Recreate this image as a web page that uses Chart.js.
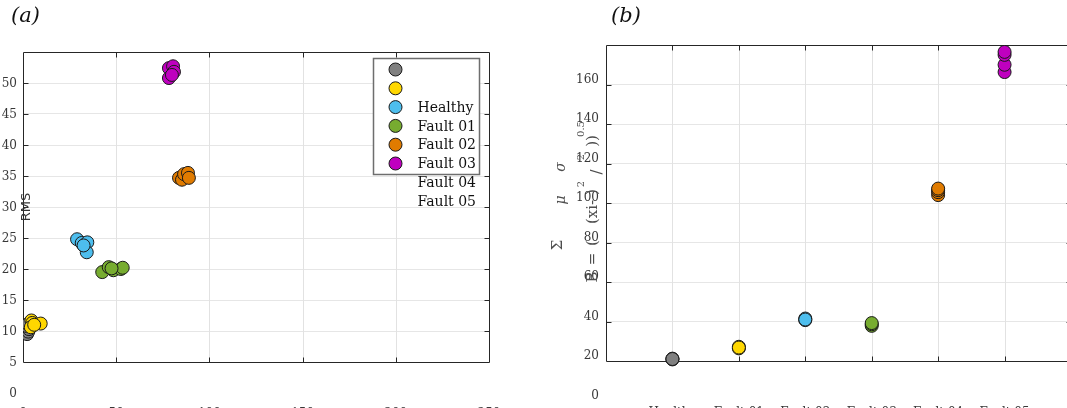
<!DOCTYPE html>
<html>
<head>
<meta charset="utf-8">
<script src="https://cdn.jsdelivr.net/npm/chart.js@4.4.0/dist/chart.umd.min.js"></script>
<style>
  html, body { margin: 0; padding: 0; background: #fff; }
  #wrap { position: relative; width: 1067px; height: 408px; overflow: hidden; }
  canvas { position: absolute; top: 0; }
  #chartA { left: 0; }
  #chartB { left: 540px; }
  .tag { position: absolute; top: 3px; font: italic 21px 'DejaVu Serif', serif; color: #111; }
</style>
</head>
<body>
<div id="wrap">
  <canvas id="chartA" width="520" height="430"></canvas>
  <canvas id="chartB" width="540" height="430"></canvas>
  <div class="tag" style="left:11px">(a)</div>
  <div class="tag" style="left:611px">(b)</div>
</div>
<script>
// classes and colours
const categories = ['Healthy', 'Fault 01', 'Fault 02', 'Fault 03', 'Fault 04', 'Fault 05'];
const colors = ['#808080', '#FFD700', '#4DBEEE', '#77AC30', '#E07B00', '#BF00BF'];

// panel (a): feature on x, RMS on y
const healthyX = [2.2, 2.8, 3.2, 2.0, 2.6];
const healthyRms = [9.5, 9.9, 10.3, 10.8, 11.1];
const fault01X = [4.5, 5.0, 9.5, 4.2, 6.0];
const fault01Rms = [11.7, 11.3, 11.2, 10.6, 11.0];
const fault02X = [29.0, 31.5, 34.5, 34.2, 32.5];
const fault02Rms = [24.8, 24.2, 24.3, 22.7, 23.8];
const fault03X = [42.5, 46.0, 48.5, 52.5, 53.5, 47.5];
const fault03Rms = [19.5, 20.3, 19.8, 20.0, 20.2, 20.1];
const fault04X = [83.7, 85.3, 86.4, 88.5, 89.0];
const fault04Rms = [34.7, 34.4, 35.3, 35.5, 34.7];
const fault05X = [78.3, 80.5, 81.0, 78.3, 79.9];
const fault05Rms = [52.4, 52.7, 51.8, 50.8, 51.3];

// panel (b): B value per class
const healthyB = [20.8, 21.2, 21.0];
const fault01B = [26.4, 27.2, 26.8];
const fault02B = [40.7, 41.5, 41.0];
const fault03B = [37.8, 38.6, 39.2];
const fault04B = [104.0, 105.5, 106.5, 107.3];
const fault05B = [166.3, 170.0, 175.0, 176.5];

// tick labels
const xTicksA = [0, 50, 100, 150, 200, 250];
const yTicksA = [0, 5, 10, 15, 20, 25, 30, 35, 40, 45, 50];
const xTicksB = [1, 2, 3, 4, 5, 6];
const yTicksB = [0, 20, 40, 60, 80, 100, 120, 140, 160];

const tickFont = { family: 'DejaVu Serif', size: 12 };
const tickColor = '#383838';

function useTicks(values) {
  return scale => { scale.ticks = values.map(v => ({ value: v })); };
}

// axes box, inner tick marks and vertical grid lines (MATLAB style)
const framePlugin = {
  id: 'frame',
  beforeDatasetsDraw(chart, args, opts) {
    const { ctx, chartArea: a, scales: { x, y } } = chart;
    const top = Math.round(y.getPixelForValue(y.max)) + 0.5;
    const bottom = Math.round(y.getPixelForValue(opts.floor)) + 0.5;
    const left = Math.round(a.left) + 0.5;
    const right = Math.round(a.right) + 0.5;
    ctx.save();
    ctx.lineWidth = 1;
    ctx.strokeStyle = '#e2e2e2';
    ctx.beginPath();
    x.ticks.forEach(t => {
      if (t.value <= x.min || t.value >= x.max) return;
      const px = Math.round(x.getPixelForValue(t.value)) + 0.5;
      ctx.moveTo(px, top); ctx.lineTo(px, bottom);
    });
    ctx.stroke();
    ctx.strokeStyle = '#262626';
    ctx.beginPath();
    ctx.rect(left, top, right - left, bottom - top);
    x.ticks.forEach(t => {
      if (t.value <= x.min || t.value >= x.max) return;
      const px = Math.round(x.getPixelForValue(t.value)) + 0.5;
      ctx.moveTo(px, top); ctx.lineTo(px, top + 5);
      ctx.moveTo(px, bottom); ctx.lineTo(px, bottom - 5);
    });
    y.ticks.forEach(t => {
      if (t.value <= opts.floor || t.value >= y.max) return;
      const py = Math.round(y.getPixelForValue(t.value)) + 0.5;
      ctx.moveTo(left, py); ctx.lineTo(left + 5, py);
      ctx.moveTo(right, py); ctx.lineTo(right - 5, py);
    });
    ctx.stroke();
    ctx.restore();
  }
};

function rotText(ctx, str, x, y, font, color) {
  ctx.save();
  ctx.translate(x, y);
  ctx.rotate(-Math.PI / 2);
  ctx.font = font;
  ctx.fillStyle = color;
  ctx.textAlign = 'center';
  ctx.textBaseline = 'middle';
  ctx.fillText(str, 0, 0);
  ctx.restore();
}

// legend of panel (a): labels come out two rows low in the original
const legendA = {
  id: 'legendA',
  afterDatasetsDraw(chart) {
    const { ctx, chartArea: a } = chart;
    const bx = Math.round(a.right) - 116 + 0.5, by = 58.5, bw = 106, bh = 116;
    ctx.save();
    ctx.fillStyle = '#fff';
    ctx.fillRect(bx, by, bw, bh);
    ctx.lineWidth = 1.5;
    ctx.strokeStyle = '#6e6e6e';
    ctx.strokeRect(bx, by, bw, bh);
    ctx.lineWidth = 1;
    chart.data.datasets.forEach((ds, i) => {
      ctx.beginPath();
      ctx.arc(bx + 22, by + 11 + i * 18.8, 6.5, 0, Math.PI * 2);
      ctx.fillStyle = ds.backgroundColor;
      ctx.fill();
      ctx.strokeStyle = '#1a1a1a';
      ctx.stroke();
    });
    ctx.font = '14px "DejaVu Serif"';
    ctx.fillStyle = '#111';
    ctx.textBaseline = 'middle';
    chart.data.datasets.forEach((ds, i) => {
      ctx.fillText(ds.label, bx + 44, by + 12 + (i + 2) * 18.8);
    });
    ctx.restore();
    rotText(ctx, 'RMS', 27, 207, '13px "DejaVu Sans"', '#333');
  }
};

// y label of panel (b), broken apart as in the original
const labelB = {
  id: 'labelB',
  afterDraw(chart) {
    const ctx = chart.ctx;
    const c = '#4d4d4d';
    const f = '15px "DejaVu Serif"';
    const fi = 'italic 14px "DejaVu Serif"';
    const fs = '10px "DejaVu Serif"';
    rotText(ctx, '\u03C3', 21, 167, fi, c);
    rotText(ctx, '\u03BC', 21, 200, fi, c);
    rotText(ctx, '\u03A3', 18, 245, f, c);
    rotText(ctx, 'B', 53, 277, f, c);
    rotText(ctx, '=', 53, 259, f, c);
    rotText(ctx, '(', 53, 243, f, c);
    rotText(ctx, '(xi-', 53, 212, f, c);
    rotText(ctx, ')', 53, 192, f, c);
    rotText(ctx, '/', 57, 172, f, c);
    rotText(ctx, '2', 41, 157, fs, c);
    rotText(ctx, '))', 53, 141, f, c);
    rotText(ctx, '2', 41, 184, fs, c);
    rotText(ctx, '0.5', 41, 129, fs, c);
  }
};

function pointSet(label, i, data) {
  return {
    label: label,
    data: data,
    backgroundColor: colors[i],
    borderColor: '#1a1a1a',
    borderWidth: 1,
    pointRadius: 6.5,
    pointHoverRadius: 6.5,
    order: 6 - i
  };
}

function pairs(xs, ys) { return xs.map((x, k) => ({ x: x, y: ys[k] })); }
function column(i, ys) { return ys.map(v => ({ x: xTicksB[i], y: v })); }

new Chart(document.getElementById('chartA'), {
  type: 'scatter',
  data: {
    datasets: [
      pointSet(categories[0], 0, pairs(healthyX, healthyRms)),
      pointSet(categories[1], 1, pairs(fault01X, fault01Rms)),
      pointSet(categories[2], 2, pairs(fault02X, fault02Rms)),
      pointSet(categories[3], 3, pairs(fault03X, fault03Rms)),
      pointSet(categories[4], 4, pairs(fault04X, fault04Rms)),
      pointSet(categories[5], 5, pairs(fault05X, fault05Rms))
    ]
  },
  options: {
    responsive: false,
    animation: false,
    devicePixelRatio: 1,
    events: [],
    layout: { padding: { top: 52, right: 31, left: 0, bottom: 0 } },
    scales: {
      x: {
        type: 'linear', min: 0, max: 250,
        afterBuildTicks: useTicks(xTicksA),
        afterFit: s => { s.height = 37; },
        grid: { display: false, drawTicks: false },
        border: { display: false },
        ticks: { font: tickFont, color: tickColor, padding: 14, maxRotation: 0 }
      },
      y: {
        min: 0, max: 55,
        afterBuildTicks: useTicks(yTicksA),
        afterFit: s => { s.width = 23; },
        grid: { drawTicks: false, color: c => (c.tick && c.tick.value > 5) ? '#e6e6e6' : 'rgba(0,0,0,0)' },
        border: { display: false },
        ticks: { font: tickFont, color: tickColor, padding: 6, labelOffset: 1 }
      }
    },
    plugins: { legend: { display: false }, tooltip: { enabled: false }, frame: { floor: 5 } }
  },
  plugins: [framePlugin, legendA]
});

new Chart(document.getElementById('chartB'), {
  type: 'scatter',
  data: {
    datasets: [
      pointSet(categories[0], 0, column(0, healthyB)),
      pointSet(categories[1], 1, column(1, fault01B)),
      pointSet(categories[2], 2, column(2, fault02B)),
      pointSet(categories[3], 3, column(3, fault03B)),
      pointSet(categories[4], 4, column(4, fault04B)),
      pointSet(categories[5], 5, column(5, fault05B))
    ]
  },
  options: {
    responsive: false,
    animation: false,
    devicePixelRatio: 1,
    events: [],
    layout: { padding: { top: 45, right: 9, left: 0, bottom: 0 } },
    scales: {
      x: {
        type: 'linear', min: 0, max: 7,
        afterBuildTicks: useTicks(xTicksB),
        afterFit: s => { s.height = 29.5; },
        grid: { display: false, drawTicks: false },
        border: { display: false },
        ticks: { font: tickFont, color: tickColor, padding: 5, maxRotation: 0, autoSkip: false,
                 callback: v => categories[xTicksB.indexOf(v)] || '' }
      },
      y: {
        min: 0, max: 180,
        afterBuildTicks: useTicks(yTicksB),
        afterFit: s => { s.width = 66; },
        grid: { drawTicks: false, color: c => (c.tick && c.tick.value > 20) ? '#e6e6e6' : 'rgba(0,0,0,0)' },
        border: { display: false },
        ticks: { font: tickFont, color: tickColor, padding: 7, labelOffset: -5 }
      }
    },
    plugins: { legend: { display: false }, tooltip: { enabled: false }, frame: { floor: 20 } }
  },
  plugins: [framePlugin, labelB]
});
</script>
</body>
</html>
